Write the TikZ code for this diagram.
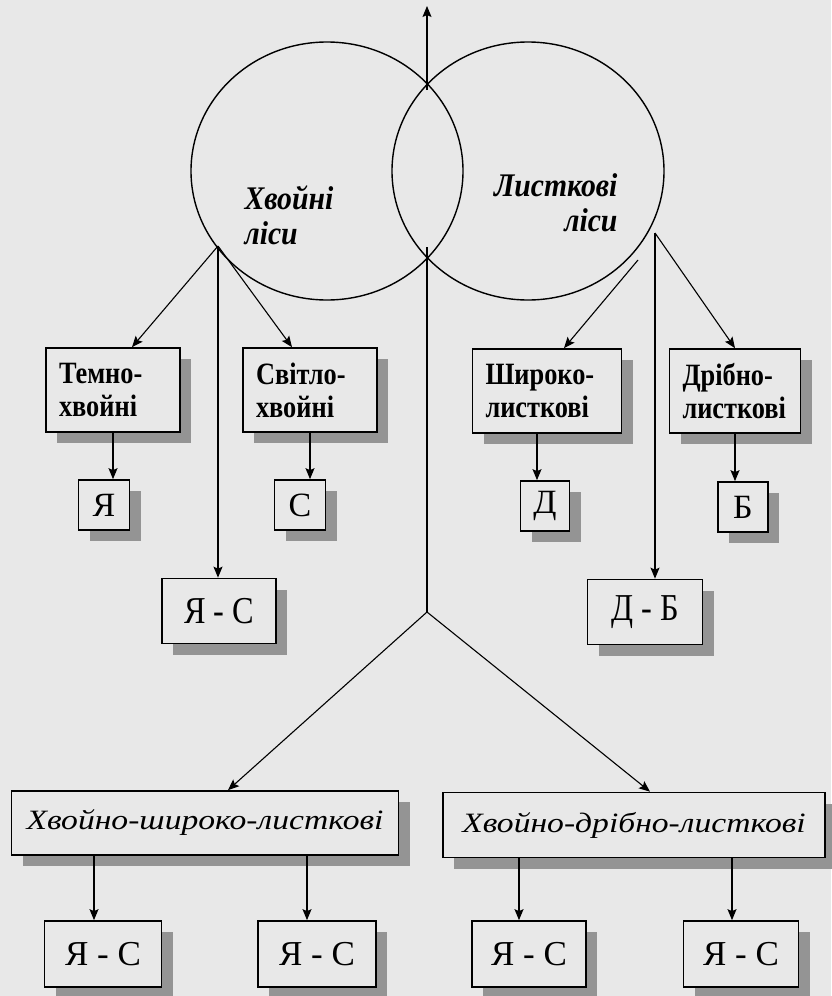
\documentclass[tikz,border=0pt]{standalone}
\usepackage{fontspec}
\setmainfont{Liberation Serif}
\newfontfamily\wideserif[FakeStretch=1.2]{Liberation Serif}
\newfontfamily\narrowserif[FakeStretch=0.85]{Liberation Serif}
\newfontfamily\labelserif[FakeStretch=0.9]{Liberation Serif}
\usepackage{tikz}
\usetikzlibrary{arrows.meta}
\usetikzlibrary{shapes.geometric}
\usetikzlibrary{shadows}

\definecolor{paper}{gray}{0.91}
\definecolor{shade}{gray}{0.58}

\begin{document}
\begin{tikzpicture}[x=1pt,y=-1pt,
		arr/.style={-{Stealth[length=11pt,width=9pt,inset=2pt]}, line width=1.1pt},
		ln/.style={line width=1.1pt},
		forest/.style={draw, ellipse, line width=1.4pt, minimum width=272pt, minimum height=258pt, inner sep=0pt},
		kindbox/.style={draw, line width=1.7pt, fill=paper, inner sep=0pt, align=center,
			drop shadow={shadow xshift=11pt, shadow yshift=-11pt, fill=shade, opacity=1}},
		kindtext/.style={font=\narrowserif\bfseries\fontsize{31}{33}\selectfont, align=left, inner xsep=13pt},
		lettertext/.style={font=\fontsize{34}{34}\selectfont},
		pairtext/.style={font=\narrowserif\fontsize{38}{38}\selectfont},
		lowpairtext/.style={font=\fontsize{35}{35}\selectfont},
		mixtext/.style={font=\wideserif\itshape\fontsize{28}{28}\selectfont},
		foresttext/.style={font=\labelserif\bfseries\itshape\fontsize{33}{35}\selectfont}]
		\fill[paper] (0,0) rectangle (831,996);
		\useasboundingbox (0,0) rectangle (831,996);
		
		\node[forest] (lc) at (327,171) {};
		\node[forest] (rc) at (528,171) {};
		\node[foresttext, anchor=west, align=left] (lclabel) at (241,215) {Хвойні\\ліси};
		\node[foresttext, anchor=east, align=right] (rclabel) at (621,203) {Листкові\\ліси};
		
		\coordinate (tip) at (427,6);
		\coordinate (apex) at (427,90);
		\coordinate (lens) at (427,247);
		\coordinate (split) at (427,612);
		\coordinate (lfork) at (218,246);
		\coordinate (rfork) at (655,233);
		\coordinate (rfork2) at (638,260);
		
		\node[kindbox, kindtext, text width=108pt, minimum height=84pt] (temno) at (113,390) {Темно-\\хвойні};
		\node[kindbox, kindtext, text width=108pt, minimum height=84pt] (svitlo) at (310,390) {Світло-\\хвойні};
		\node[kindbox, kindtext, text width=123pt, minimum height=84pt] (shyr) at (547,391) {Широко-\\листкові};
		\node[kindbox, kindtext, text width=105pt, minimum height=84pt] (dribn) at (735,391) {Дрібно-\\листкові};
		
		\node[kindbox, lettertext, minimum width=51pt, minimum height=50pt] (ya) at (104,505) {Я};
		\node[kindbox, lettertext, minimum width=51pt, minimum height=50pt] (se) at (300,505) {С};
		\node[kindbox, lettertext, minimum width=49pt, minimum height=50pt] (de) at (545,506) {Д};
		\node[kindbox, lettertext, minimum width=50pt, minimum height=50pt] (be) at (743,507) {Б};
		
		\node[kindbox, pairtext, minimum width=114pt, minimum height=65pt] (ys) at (219,611) {Я - С};
		\node[kindbox, pairtext, minimum width=115pt, minimum height=65pt] (db) at (645,612) {Д - Б};
		
		\node[kindbox, mixtext, minimum width=387pt, minimum height=64pt] (xsh) at (205,823) {Хвойно-широко-листкові};
		\node[kindbox, mixtext, minimum width=382pt, minimum height=65pt] (xdr) at (634,825) {Хвойно-дрібно-листкові};
		
		\node[kindbox, lowpairtext, minimum width=117pt, minimum height=66pt] (ys1) at (103,954) {Я - С};
		\node[kindbox, lowpairtext, minimum width=118pt, minimum height=66pt] (ys2) at (317,954) {Я - С};
		\node[kindbox, lowpairtext, minimum width=114pt, minimum height=66pt] (ys3) at (529,954) {Я - С};
		\node[kindbox, lowpairtext, minimum width=115pt, minimum height=66pt] (ys4) at (741,954) {Я - С};
		
		% from the circles
		\draw[arr] (apex) -- (tip);
		\draw[ln] (lens) -- (split);
		\draw[arr] (lfork) -- ([xshift=19pt]temno.north);
		\draw[arr] (lfork) -- ([xshift=-18pt]svitlo.north);
		\draw[arr] (lfork) -- (lfork |- ys.north);
		\draw[arr] (rfork2) -- ([xshift=17pt]shyr.north);
		\draw[arr] (rfork) -- (dribn.north);
		\draw[arr] (rfork) -- (rfork |- db.north);
		
		% kinds to letters
		\draw[arr] (temno.south) -- (temno.south |- ya.north);
		\draw[arr] (svitlo.south) -- (svitlo.south |- se.north);
		\draw[arr] ([xshift=-10pt]shyr.south) -- ([xshift=-10pt]shyr.south |- de.north);
		\draw[arr] (dribn.south) -- (dribn.south |- be.north);
		
		% mixed forests
		\draw[arr] (split) -- ([xshift=23pt]xsh.north);
		\draw[arr] (split) -- ([xshift=16pt]xdr.north);
		\draw[arr] ([xshift=-9pt]ys1.north |- xsh.south) -- ([xshift=-9pt]ys1.north);
		\draw[arr] ([xshift=-10pt]ys2.north |- xsh.south) -- ([xshift=-10pt]ys2.north);
		\draw[arr] ([xshift=-10pt]ys3.north |- xdr.south) -- ([xshift=-10pt]ys3.north);
		\draw[arr] ([xshift=-9pt]ys4.north |- xdr.south) -- ([xshift=-9pt]ys4.north);
\end{tikzpicture}
\end{document}
